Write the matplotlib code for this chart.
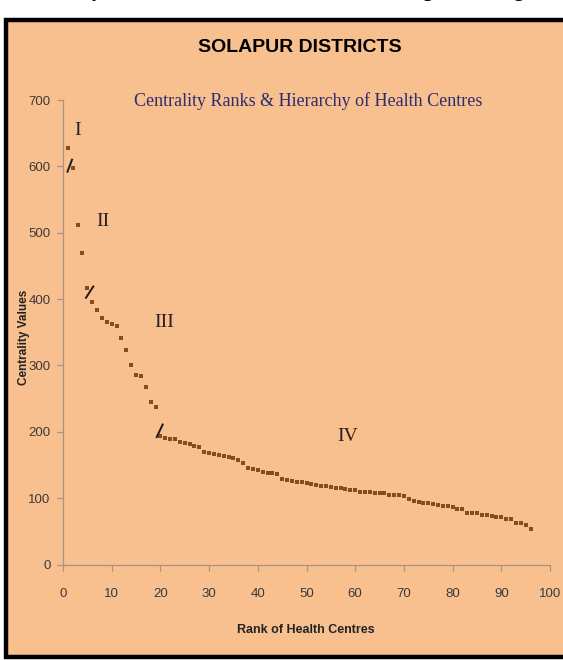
import matplotlib
matplotlib.use('Agg')
import matplotlib.pyplot as plt
from matplotlib.patches import Rectangle

# Centrality values of the health centres, ordered by rank
centrality = [628, 597, 511, 470, 417, 395, 383, 371, 365, 362,
              360, 342, 324, 301, 285, 284, 268, 245, 238, 193,
              190, 189, 189, 185, 183, 181, 178, 177, 170, 168,
              167, 165, 164, 162, 160, 157, 153, 146, 144, 142,
              140, 138, 138, 137, 129, 128, 126, 125, 124, 123,
              122, 120, 119, 118, 117, 116, 115, 114, 113, 113,
              110, 110, 109, 108, 107, 107, 104, 104, 104, 103,
              99, 95, 94, 93, 92, 91, 90, 88, 88, 86,
              84, 83, 78, 77, 77, 74, 74, 73, 72, 71,
              69, 68, 63, 62, 60, 53]
ranks = list(range(1, len(centrality) + 1))

# hierarchy levels and where their labels sit
levels = ['I', 'II', 'III', 'IV']
level_x = [2.9, 8.2, 20.7, 58.5]
level_y = [654, 517, 365, 193]

# short break marks between the levels
breaks = [((0.92, 592), (1.85, 610)),
          ((4.72, 402), (6.22, 419)),
          ((19.24, 192), (20.47, 211))]

peach = '#F9C08F'
axis_col = '#A89280'
sans = ['Liberation Sans', 'DejaVu Sans']
serif = ['Liberation Serif', 'DejaVu Serif']

fig = plt.figure(figsize=(5.63, 6.6), dpi=100)
fig.patch.set_facecolor('white')

# framed peach panel
W, H = 563.0, 660.0
fig.patches.append(Rectangle((5.5 / W, (H - 656.5) / H), 580 / W, (656.5 - 19.5) / H,
                             transform=fig.transFigure, facecolor=peach,
                             edgecolor='black', linewidth=3.2, zorder=-10))

# bits of the page text cut off above the chart
for x_px, s in [(97, 'y'), (427, 'g'), (518, 'g')]:
    fig.text(x_px / W, 1 + 3 / H, s, family=serif, fontsize=14,
             fontweight='bold', ha='center', va='baseline', color='black')

ax = fig.add_axes([63 / W, (H - 564.5) / H, 487 / W, 464.5 / H])
ax.set_facecolor('none')
ax.set_zorder(5)

ax.plot(ranks, centrality, linestyle='none', marker='s', markersize=2.7,
        color='#8A4A1E', markeredgewidth=0)

for (p1, p2) in breaks:
    ax.plot([p1[0], p2[0]], [p1[1], p2[1]], color='#1a1a1a', linewidth=1.4)

for lab, lx, ly in zip(levels, level_x, level_y):
    ax.text(lx, ly, lab, family=serif, fontsize=14, ha='center', va='center',
            color='#2a1f1f')

ax.set_xlim(0, 100)
ax.set_ylim(0, 700)
ax.set_xticks(range(0, 101, 10))
ax.set_yticks(range(0, 701, 100))

for side in ['top', 'right']:
    ax.spines[side].set_visible(False)
for side in ['left', 'bottom']:
    ax.spines[side].set_color(axis_col)
    ax.spines[side].set_linewidth(0.9)

ax.tick_params(axis='both', colors=axis_col, length=4, width=0.9, direction='out')
ax.tick_params(axis='x', pad=13)
ax.tick_params(axis='y', pad=5)
for lbl in ax.get_xticklabels() + ax.get_yticklabels():
    lbl.set_family(sans)
    lbl.set_fontsize(9.5)
    lbl.set_color('#3a3a3a')

ax.set_xlabel('Rank of Health Centres', family=sans, fontsize=9,
              fontweight='bold', color='#222222')
ax.xaxis.set_label_coords(0.499, -0.128)
ax.set_ylabel('Centrality Values', family=sans, fontsize=8.5,
              fontweight='bold', color='#222222')
ax.yaxis.set_label_coords(-0.068, 0.49)

fig.text(300 / W, 1 - 47 / H, 'SOLAPUR DISTRICTS', family=sans, fontsize=14,
         fontweight='bold', ha='center', va='center', color='black')
fig.text(308 / W, 1 - 101 / H, 'Centrality Ranks & Hierarchy of Health Centres',
         family=serif, fontsize=13, ha='center', va='center', color='#2B2D6E')

fig.savefig('out.png', dpi=100, facecolor=fig.get_facecolor())
